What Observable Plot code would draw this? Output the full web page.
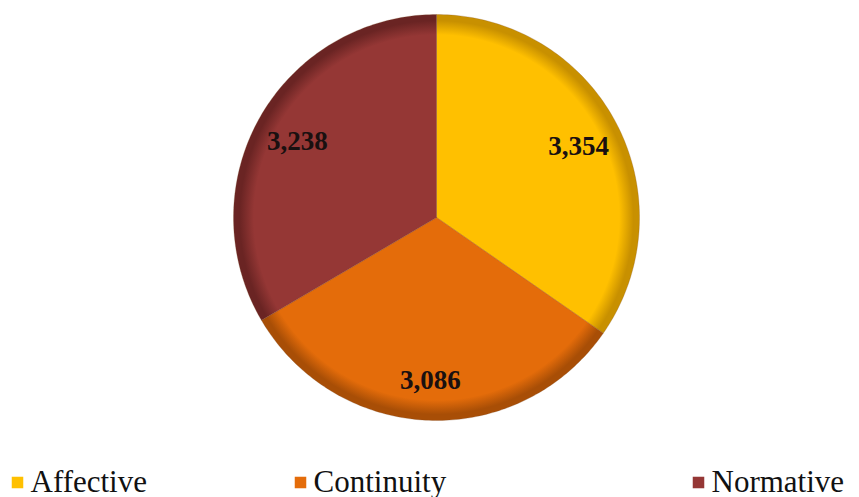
<!DOCTYPE html>
<html><head><meta charset="utf-8">
<script src="https://cdn.jsdelivr.net/npm/d3@7"></script>
<script src="https://cdn.jsdelivr.net/npm/@observablehq/plot@0.6"></script>
</head>
<body style="margin:0;background:#fff;">
<div id="chart"></div>
<script>
const categories = ["Affective", "Continuity", "Normative"];
const values = [3354, 3086, 3238];
const labels = ["3,354", "3,086", "3,238"];
const colors = ["#FFC000", "#E46C0A", "#953735"];
const rimColors = ["#C89000", "#A84E06", "#6A2423"];
const legendLeft = [11, 294, 692];   // layout: swatch left edge (px) per legend item

const W = 859, H = 497, CX = 436, CY = 217, R = 203;
const FONT = "Liberation Serif";
const px = v => (v - CX) / R;      // pixel layout -> plot units
const py = v => (CY - v) / R;

const pie = d3.pie().sort(null).value(d => d.value)(categories.map((c, i) => ({c, value: values[i], i})));
const poly = [];
pie.forEach(p => {
  poly.push({c: p.data.c, x: 0, y: 0});
  const n = 120;
  for (let k = 0; k <= n; k++) {
    const a = p.startAngle + (p.endAngle - p.startAngle) * k / n;
    poly.push({c: p.data.c, x: Math.sin(a), y: Math.cos(a)});
  }
  poly.push({c: p.data.c, x: 0, y: 0});
});
const lab = pie.map(p => {
  const a = (p.startAngle + p.endAngle) / 2;
  return {t: labels[p.data.i], x: 0.79 * Math.sin(a), y: 0.79 * Math.cos(a) - 0.015};
});
const legendData = categories.map((c, i) => ({c, left: legendLeft[i]}));

const chart = Plot.plot({
  width: W, height: H, margin: 0,
  x: {domain: [-CX / R, (W - CX) / R], axis: null},
  y: {domain: [-(H - CY) / R, CY / R], axis: null},
  color: {domain: categories, range: categories.map((c, i) => `url(#g${i})`)},
  marks: [
    Plot.line(poly, {x: "x", y: "y", z: "c", fill: "c", stroke: "#7a4a20", strokeWidth: 0.4, strokeOpacity: 0.6, curve: "linear"}),
    Plot.text(lab, {x: "x", y: "y", text: "t", fontSize: 27, fontWeight: "bold", fontFamily: FONT, fill: "#1a1010"}),
    Plot.dot(legendData, {x: d => px(d.left + 6), y: py(482), symbol: "square", r: 6.5, fill: d => colors[categories.indexOf(d.c)], stroke: null}),
    Plot.text(legendData, {x: d => px(d.left + 19), y: py(491), text: "c", textAnchor: "start", lineAnchor: "bottom",
      fontSize: 31, fontFamily: FONT, fill: "#111"})
  ]
});
const ns = "http://www.w3.org/2000/svg";
const defs = document.createElementNS(ns, "defs");
colors.forEach((col, i) => {
  const g = document.createElementNS(ns, "radialGradient");
  g.setAttribute("id", "g" + i);
  g.setAttribute("gradientUnits", "userSpaceOnUse");
  g.setAttribute("cx", CX); g.setAttribute("cy", CY); g.setAttribute("r", R);
  [[0, col], [0.9, col], [0.97, rimColors[i]], [1, rimColors[i]]].forEach(([o, c]) => {
    const s = document.createElementNS(ns, "stop");
    s.setAttribute("offset", o); s.setAttribute("stop-color", c);
    g.appendChild(s);
  });
  defs.appendChild(g);
});
chart.insertBefore(defs, chart.firstChild);
chart.querySelectorAll("text").forEach(t => t.setAttribute("font-family", FONT));
document.getElementById("chart").appendChild(chart);
</script>
</body></html>
